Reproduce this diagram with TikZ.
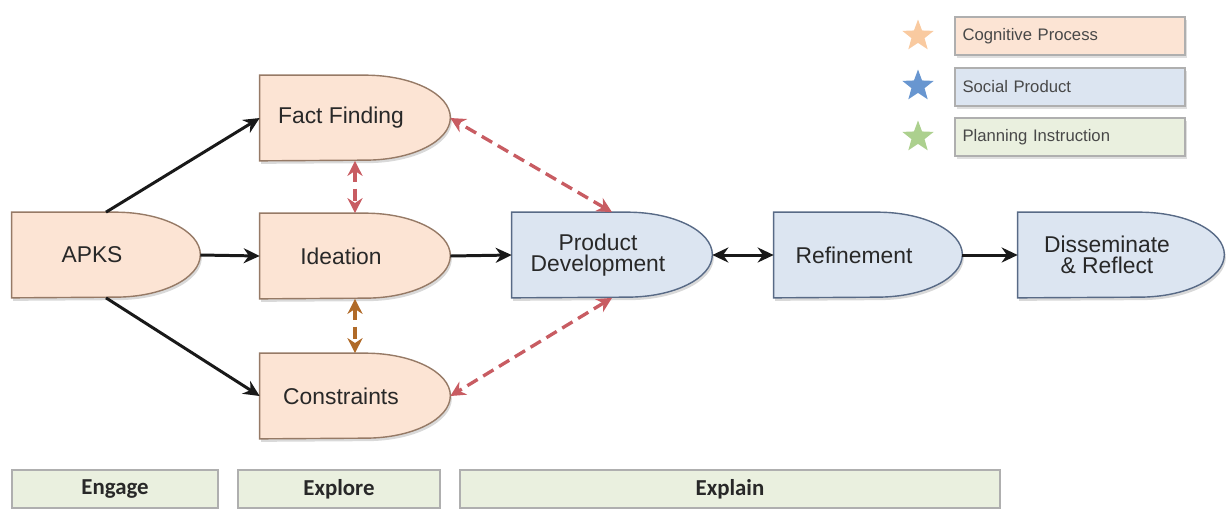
\documentclass[tikz,border=0pt]{standalone}
\usepackage{fontspec}
\setmainfont{Liberation Sans}
\newfontfamily\phasefont{Carlito}
\usetikzlibrary{arrows.meta,shapes.geometric,shadows,backgrounds}

\definecolor{cogfill}{RGB}{252,228,212}
\definecolor{cogline}{RGB}{150,122,102}
\definecolor{socfill}{RGB}{220,229,241}
\definecolor{socline}{RGB}{88,106,134}
\definecolor{planfill}{RGB}{234,240,223}
\definecolor{boxline}{RGB}{175,175,175}
\definecolor{linkred}{RGB}{200,92,98}
\definecolor{linkbrown}{RGB}{176,106,40}
\definecolor{txtgray}{RGB}{40,40,40}
\definecolor{starcog}{RGB}{249,202,160}
\definecolor{starsoc}{RGB}{104,150,208}
\definecolor{starplan}{RGB}{172,208,142}

\tikzset{
  stage/.style={minimum height=1.7cm, inner sep=0pt},
  stagetext/.style={font=\fontsize{13}{12}\selectfont, text=txtgray, align=center, xshift=-0.28cm},
  cogshape/.style={draw=cogline, fill=cogfill, line width=0.8pt, drop shadow={opacity=0.3, shadow xshift=0.03cm, shadow yshift=-0.06cm}},
  socshape/.style={draw=socline, fill=socfill, line width=0.8pt, drop shadow={opacity=0.3, shadow xshift=0.03cm, shadow yshift=-0.06cm}},
  flow/.style={line width=1.7pt, draw={rgb,255:red,25;green,25;blue,25}, -{Stealth[length=0.32cm,width=0.3cm]}},
  flowboth/.style={flow, {Stealth[length=0.32cm,width=0.3cm]}-{Stealth[length=0.32cm,width=0.3cm]}},
  link/.style={line width=1.9pt, dash pattern=on 0.24cm off 0.13cm, {Stealth[length=0.3cm,width=0.3cm]}-{Stealth[length=0.3cm,width=0.3cm]}},
  legbox/.style={draw=boxline, line width=0.7pt, minimum width=4.6cm, minimum height=0.76cm, text width=4.3cm, align=left, font=\fontsize{9.5}{11}\selectfont, text=txtgray!85, drop shadow={opacity=0.25, shadow xshift=0.04cm, shadow yshift=-0.05cm}},
  legstar/.style={star, star points=5, star point ratio=2.4, minimum size=0.66cm, inner sep=0pt},
  phase/.style={draw=boxline, line width=0.7pt, fill=planfill, minimum height=0.76cm, font=\phasefont\fontsize{13}{14}\selectfont\bfseries, text=txtgray}
}

\begin{document}
\begin{tikzpicture}[x=0.02cm,y=-0.02cm]
\useasboundingbox (0,0) rectangle (1226,508);
%STAGES
\node[stage, minimum width=3.76cm, label={[stagetext]center:APKS}] (apks) at (106,255) {};
\node[stage, minimum width=3.8cm, label={[stagetext]center:Fact Finding}] (fact) at (355,118) {};
\node[stage, minimum width=3.8cm, label={[stagetext]center:Ideation}] (idea) at (355,256) {};
\node[stage, minimum width=3.8cm, label={[stagetext]center:Constraints}] (cons) at (355,396) {};
\node[stage, minimum width=4cm, label={[stagetext]center:Product\\Development}] (prod) at (612,255) {};
\node[stage, minimum width=3.76cm, label={[stagetext]center:Refinement}] (refi) at (868,255) {};
\node[stage, minimum width=4.12cm, label={[stagetext]center:Disseminate\\\& Reflect}] (diss) at (1121,255) {};
\begin{scope}[on background layer]
\foreach \n/\s in {apks/cogshape,fact/cogshape,idea/cogshape,cons/cogshape,prod/socshape,refi/socshape,diss/socshape}
  \draw[\s] (\n.north west) -- ([xshift=-1.7cm]\n.north east) arc[start angle=90,end angle=-90,x radius=1.7cm,y radius=0.85cm] -- (\n.south west) -- cycle;
\end{scope}
%FLOW
\draw[flow] (apks.north) -- (fact.west);
\draw[flow] (apks.east) -- (idea.west);
\draw[flow] (apks.south) -- (cons.west);
\draw[flow] (idea.east) -- (prod.west);
\draw[flowboth] (prod.east) -- (refi.west);
\draw[flow] (refi.east) -- (diss.west);
%LINKS
\draw[link, linkred] (prod.north) -- (fact.east);
\draw[link, linkred] (prod.south) -- (cons.east);
\draw[link, linkred] (fact.south) -- (idea.north);
\draw[link, linkbrown] (idea.south) -- (cons.north);
%LEGEND
\node[legstar, fill=starcog] (scog) at (918,36) {};
\node[legstar, fill=starsoc] (ssoc) at (918,86) {};
\node[legstar, fill=starplan] (splan) at (918,137) {};
\node[legbox, fill=cogfill] (lcog) at (1070,36) {Cognitive Process};
\node[legbox, fill=socfill] (lsoc) at (1070,87) {Social Product};
\node[legbox, fill=planfill] (lplan) at (1070,137) {Planning Instruction};
%PHASES
\node[phase, minimum width=4.12cm] (engage) at (115,489) {Engage};
\node[phase, minimum width=4.04cm] (explore) at (339,489) {Explore};
\node[phase, minimum width=10.8cm] (explain) at (730,489) {Explain};
\end{tikzpicture}
\end{document}
